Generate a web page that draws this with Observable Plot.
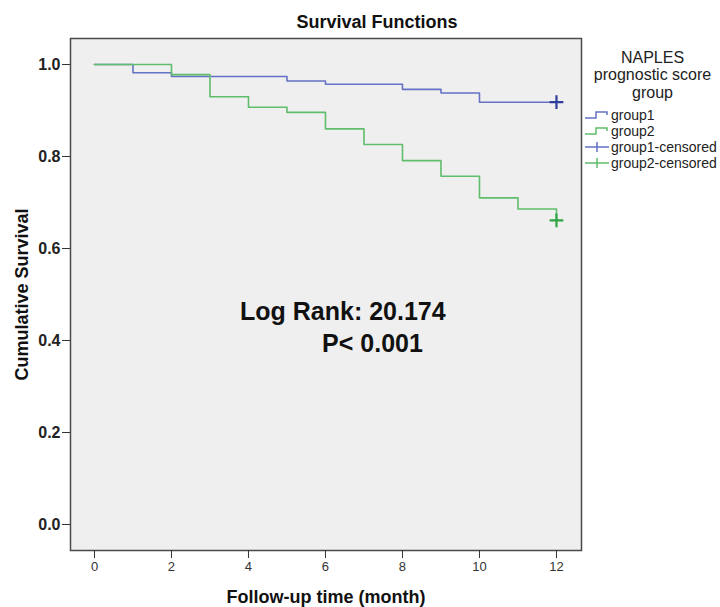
<!DOCTYPE html>
<html>
<head>
<meta charset="utf-8">
<script src="https://cdn.jsdelivr.net/npm/d3@7"></script>
<script src="https://cdn.jsdelivr.net/npm/@observablehq/plot@0.6"></script>
<style>
  html, body { margin: 0; padding: 0; background: #fff; }
  #chart svg { display: block; }
</style>
</head>
<body>
<div id="chart"></div>
<script>
// ---- data ----
const group1Time = [0, 1, 2, 5, 6, 8, 9, 10, 12];
const group1Surv = [1, 0.982, 0.974, 0.964, 0.957, 0.946, 0.938, 0.918, 0.918];
const group2Time = [0, 2, 3, 4, 5, 6, 7, 8, 9, 10, 11, 12];
const group2Surv = [1, 0.978, 0.930, 0.907, 0.896, 0.860, 0.826, 0.791, 0.757, 0.710, 0.686, 0.661];
const censoredGroup = ["group1", "group2"];
const censoredTime = [12, 12];
const censoredSurv = [0.918, 0.661];
const xTicks = [0, 2, 4, 6, 8, 10, 12];
const yTicks = [0, 0.2, 0.4, 0.6, 0.8, 1.0];
const titleText = ["Survival Functions"];
const xLabel = ["Follow-up time (month)"];
const yLabel = ["Cumulative Survival"];
const legendTitle = ["NAPLES\nprognostic score\ngroup"];
const legendLabels = ["group1", "group2", "group1-censored", "group2-censored"];
const annotText = ["Log Rank: 20.174", "P< 0.001"];
const annotX = [6.45, 7.22];
const annotY = [0.461, 0.393];

const colors = {group1: "#6672c3", group2: "#60bd6b"};
const censorColors = {group1: "#2f3d9c", group2: "#2fa544"};

const g1 = group1Time.map((t, i) => ({t, s: group1Surv[i]}));
const g2 = group2Time.map((t, i) => ({t, s: group2Surv[i]}));
const cens = censoredGroup.map((g, i) => ({g, t: censoredTime[i], s: censoredSurv[i]}));
const annots = annotText.map((txt, i) => ({txt, x: annotX[i], y: annotY[i]}));

const font = "Arial, 'Liberation Sans', sans-serif";

const chart = Plot.plot({
  width: 720,
  height: 607,
  marginLeft: 70,
  marginRight: 139,
  marginTop: 38,
  marginBottom: 57,
  style: {fontFamily: font, background: "#fff", color: "#222", overflow: "visible"},
  x: {domain: [-0.623, 12.65]},
  y: {domain: [-0.0565, 1.0565]},
  marks: [
    Plot.frame({fill: "#efefef", stroke: "#4a4a4a", strokeWidth: 1.5}),
    Plot.axisX(xTicks, {tickSize: 8, tickPadding: 3, fontSize: 13, label: null, stroke: "#333", fill: "#333"}),
    Plot.axisY(yTicks, {tickSize: 8, tickPadding: 2, fontSize: 16, fontWeight: "bold", label: null, tickFormat: d3.format(".1f"), stroke: "#333"}),
    Plot.line(g1, {x: "t", y: "s", curve: "step-after", stroke: colors.group1, strokeWidth: 1.6}),
    Plot.line(g2, {x: "t", y: "s", curve: "step-after", stroke: colors.group2, strokeWidth: 1.6}),
    Plot.dot(cens, {x: "t", y: "s", symbol: "plus", r: 4.5, stroke: d => censorColors[d.g], strokeWidth: 2.2}),
    Plot.text(annots, {x: "x", y: "y", text: "txt", fontSize: 25, fontWeight: "bold", fill: "#111", textAnchor: "middle", lineAnchor: "middle"}),
    Plot.text(titleText, {frameAnchor: "top", dx: 51, dy: -16, fontSize: 18, fontWeight: "bold", fill: "#111", textAnchor: "middle", lineAnchor: "middle"}),
    Plot.text(xLabel, {frameAnchor: "bottom", dy: 47, fontSize: 18, fontWeight: "bold", fill: "#111", textAnchor: "middle", lineAnchor: "middle"}),
    Plot.text(yLabel, {frameAnchor: "left", dx: -48, rotate: -90, fontSize: 18, fontWeight: "bold", fill: "#111", textAnchor: "middle", lineAnchor: "middle"}),
    Plot.text(legendTitle, {frameAnchor: "top-right", dx: 71, dy: 36, fontSize: 16, lineHeight: 1.1, fill: "#222", textAnchor: "middle", lineAnchor: "middle"})
  ]
});

document.getElementById("chart").appendChild(chart);

// legend items
const svg = d3.select(chart);
const lg = svg.append("g").attr("font-family", font).attr("font-size", 14).attr("text-anchor", "start");
const legendColors = [colors.group1, colors.group2];
const lx0 = 585, ly0 = 115, lstep = 16;
legendLabels.forEach((lab, i) => {
  const y = ly0 + i * lstep;
  if (i < 2) {
    lg.append("path")
      .attr("d", `M${lx0},${y + 3}H${lx0 + 11}V${y - 3}H${lx0 + 22}V${y}`)
      .attr("fill", "none").attr("stroke", legendColors[i]).attr("stroke-width", 1.5);
  } else {
    lg.append("path")
      .attr("d", `M${lx0},${y}H${lx0 + 24}M${lx0 + 12},${y - 5}V${y + 5}`)
      .attr("fill", "none").attr("stroke", i === 2 ? colors.group1 : colors.group2).attr("stroke-width", 1.5);
  }
  lg.append("text").attr("x", lx0 + 26).attr("y", y).attr("dy", "0.35em")
    .attr("text-anchor", "start").attr("fill", "#222").text(lab);
});
</script>
</body>
</html>
